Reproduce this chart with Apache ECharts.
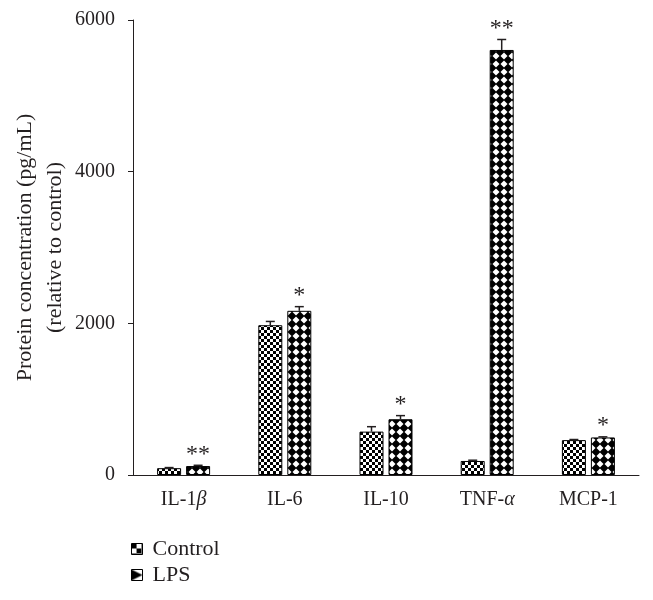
<!DOCTYPE html>
<html>
<head>
<meta charset="utf-8">
<script src="https://cdn.jsdelivr.net/npm/echarts@6/dist/echarts.min.js"></script>
<style>html,body{margin:0;padding:0;background:#fff}#c{width:653px;height:600px}</style>
</head>
<body>
<div id="c"></div>
<script>
const categories = ['IL-1β', 'IL-6', 'IL-10', 'TNF-α', 'MCP-1'];
const controlValues = [90, 1975, 572, 185, 460];
const controlErrors = [8, 50, 65, 10, 8];
const lpsValues = [118, 2165, 735, 5605, 495];
const lpsErrors = [10, 55, 48, 138, 8];
const lpsMarks = ['**', '*', '*', '**', '*'];
const yMin = 0, yMax = 6000, yStep = 2000;

const INK = '#231f20';
const FONT = 'Liberation Serif';
const BAR_W = 24, BAR_GAP = 5;

function makePattern(size, draw) {
  const c = document.createElement('canvas');
  c.width = size; c.height = size;
  const g = c.getContext('2d');
  g.fillStyle = '#fff'; g.fillRect(0, 0, size, size);
  g.fillStyle = '#000';
  draw(g, size);
  return { image: c, repeat: 'repeat' };
}
const checker = (cell) => makePattern(cell * 2, (g, s) => {
  g.fillRect(0, 0, cell, cell); g.fillRect(cell, cell, cell, cell);
});
const diamond = (s) => makePattern(s, (g, n) => {
  const h = n / 2, r = h * 1.12;
  g.beginPath(); g.moveTo(h, h - r); g.lineTo(h + r, h); g.lineTo(h, h + r); g.lineTo(h - r, h); g.closePath(); g.fill();
});
const ctrlPattern = checker(3);
const lpsPattern = diamond(8);
const ctrlLegend = checker(5);
const lpsLegend = makePattern(11, (g, n) => {
  g.beginPath(); g.moveTo(0, 0); g.lineTo(n, n / 2); g.lineTo(0, n); g.closePath(); g.fill();
});

const chart = echarts.init(document.getElementById('c'), null, { renderer: 'canvas' });

const errData = categories.map((c, i) => [i, controlValues[i], controlErrors[i], lpsValues[i], lpsErrors[i], lpsMarks[i]]);

chart.setOption({
  animation: false,
  textStyle: { fontFamily: FONT, color: INK },
  grid: { left: 133, right: 14, top: 20, bottom: 125, containLabel: false, outerBoundsMode: 'none' },
  legend: {
    orient: 'vertical', left: 126, top: 533, itemWidth: 11, itemHeight: 11, itemGap: 4, icon: 'rect',
    textStyle: { fontFamily: FONT, fontSize: 22, color: INK, padding: [0, 0, 0, 5] },
    data: [
      { name: 'Control', icon: 'rect', itemStyle: { color: ctrlLegend, borderColor: '#000', borderWidth: 1 } },
      { name: 'LPS', icon: 'rect', itemStyle: { color: lpsLegend, borderColor: '#000', borderWidth: 1 } }
    ]
  },
  xAxis: {
    type: 'category', data: categories, boundaryGap: true,
    axisLine: { lineStyle: { color: INK, width: 1 } },
    axisTick: { alignWithLabel: true, length: 5, lineStyle: { color: INK } },
    axisLabel: {
      interval: 0, margin: 15, fontSize: 20, fontFamily: FONT, color: INK,
      formatter: v => v.replace(/([βα])/g, '{i|$1}'),
      rich: { i: { fontStyle: 'italic', fontSize: 20, fontFamily: FONT, color: INK } }
    }
  },
  yAxis: {
    type: 'value', min: yMin, max: yMax, interval: yStep,
    name: 'Protein concentration (pg/mL)\n(relative to control)',
    nameLocation: 'middle', nameRotate: 90, nameGap: 63, nameMoveOverlap: false,
    nameTextStyle: { fontFamily: FONT, fontSize: 22, color: INK, lineHeight: 30 },
    axisLine: { show: true, lineStyle: { color: INK, width: 1 } },
    axisTick: { show: true, length: 5, lineStyle: { color: INK } },
    axisLabel: { margin: 18, fontSize: 20, fontFamily: FONT, color: INK, formatter: v => String(v) },
    splitLine: { show: false }
  },
  series: [
    { name: 'Control', type: 'bar', data: controlValues, barWidth: BAR_W, barGap: (BAR_GAP / BAR_W * 100) + '%',
      itemStyle: { color: ctrlPattern, borderColor: '#000', borderWidth: 1 } },
    { name: 'LPS', type: 'bar', data: lpsValues, barWidth: BAR_W,
      itemStyle: { color: lpsPattern, borderColor: '#000', borderWidth: 1 } },
    { type: 'custom', data: errData, z: 5, silent: true,
      renderItem: (params, api) => {
        const idx = api.value(0);
        const children = [];
        const pairs = [[api.value(1), api.value(2), -1], [api.value(3), api.value(4), 1]];
        pairs.forEach(([v, e, side]) => {
          const base = api.coord([idx, v]);
          const top = api.coord([idx, v + e]);
          const x = base[0] + side * (BAR_W / 2 + BAR_GAP / 2);
          children.push({ type: 'line', shape: { x1: x, y1: base[1], x2: x, y2: top[1] }, style: { stroke: INK, lineWidth: 1.5 } });
          children.push({ type: 'line', shape: { x1: x - 4.5, y1: top[1], x2: x + 4.5, y2: top[1] }, style: { stroke: INK, lineWidth: 1.5 } });
          if (side === 1) {
            children.push({ type: 'text', x: x, y: top[1] - 11, style: {
              text: errData[params.dataIndex][5], fill: INK, font: '24px "' + FONT + '"', align: 'center', verticalAlign: 'middle'
            } });
          }
        });
        return { type: 'group', children };
      }
    }
  ]
});
</script>
</body>
</html>
